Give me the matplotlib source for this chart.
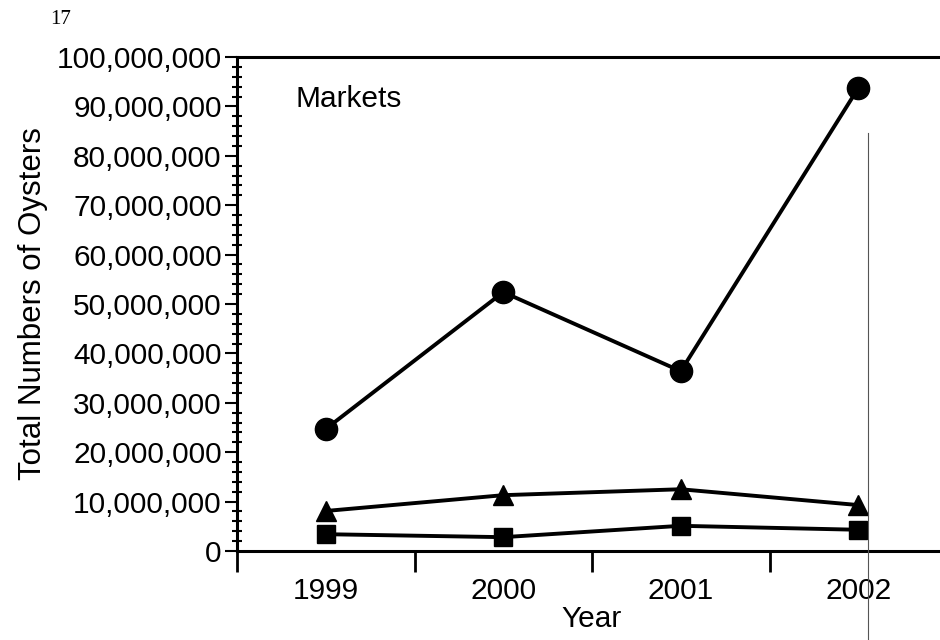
import matplotlib
matplotlib.use("Agg")
import matplotlib.pyplot as plt
from matplotlib.ticker import FuncFormatter, MultipleLocator, FixedLocator
from matplotlib.lines import Line2D

years = ["1999", "2000", "2001", "2002"]
circles = [24.7e6, 52.4e6, 36.4e6, 93.7e6]
triangles = [8.1e6, 11.3e6, 12.5e6, 9.3e6]
squares = [3.4e6, 2.8e6, 5.1e6, 4.3e6]

plt.rcParams['font.family'] = ['Liberation Sans', 'DejaVu Sans']

fig = plt.figure(figsize=(9.4, 6.4), dpi=100)
ax = fig.add_axes([237/940, 89/640, 710/940, 494/640])

x = list(range(len(years)))
kw = dict(color='black', lw=2.8, clip_on=False, zorder=3)
ax.plot(x, circles, marker='o', ms=16, **kw)
ax.plot(x, triangles, marker='^', ms=14.5, **kw)
ax.plot(x, squares, marker='s', ms=13.5, **kw)

ax.set_xlim(-0.5, 3.5)
ax.set_ylim(0, 100e6)

ax.yaxis.set_major_locator(MultipleLocator(10e6))
ax.yaxis.set_minor_locator(MultipleLocator(2e6))
ax.yaxis.set_major_formatter(FuncFormatter(lambda v, p: f"{int(round(v)):,}"))
ax.tick_params(axis='y', which='major', direction='out', length=9, width=1.5,
               labelsize=21.5, pad=2)
ax.tick_params(axis='y', which='minor', direction='inout', length=7, width=1.5)

ax.xaxis.set_major_locator(FixedLocator([-0.5, 0.5, 1.5, 2.5]))
ax.xaxis.set_major_formatter(FuncFormatter(lambda v, p: ""))
ax.xaxis.set_minor_locator(FixedLocator(x))
ax.set_xticklabels(years, minor=True)
ax.tick_params(axis='x', which='major', direction='out', length=15, width=2)
ax.tick_params(axis='x', which='minor', length=0, labelsize=21.5, pad=19)

for s in ['left', 'bottom', 'top']:
    ax.spines[s].set_linewidth(2.2)
ax.spines['right'].set_visible(False)

ax.set_xlabel("Year", fontsize=21.5, labelpad=0)
ax.set_ylabel("Total Numbers of Oysters", fontsize=22.5, labelpad=6)

ax.text(0.082, 0.915, "Markets", transform=ax.transAxes, fontsize=21.5,
        ha='left', va='center')

fig.text(50/940, 1 - 19/640, "17", fontsize=15, family=['Liberation Serif', 'DejaVu Serif'],
         ha='left', va='center')

fig.add_artist(Line2D([868/940, 868/940], [0, 1 - 133/640], transform=fig.transFigure,
                      color='#555555', lw=0.8))

fig.savefig("out.png", dpi=100, facecolor='white')
